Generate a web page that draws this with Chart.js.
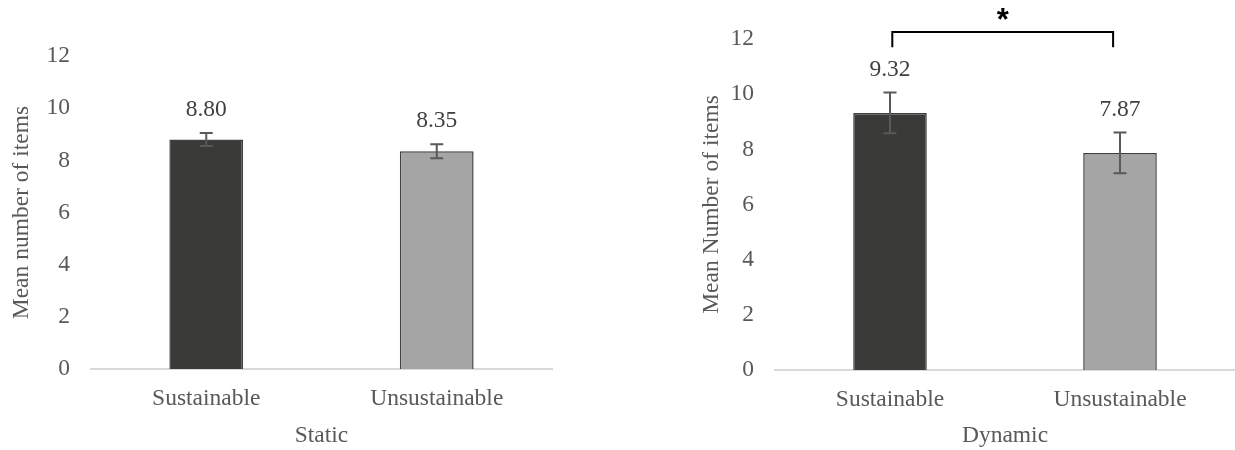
<!DOCTYPE html>
<html>
<head>
<meta charset="utf-8">
<script src="https://cdn.jsdelivr.net/npm/chart.js@4/dist/chart.umd.min.js"></script>
<style>
    body { margin: 0; background: #fff; }
    .panel { position: absolute; top: 0; height: 450px; }
</style>
</head>
<body>
<div class="panel" style="left:0;width:600px"><canvas id="staticChart" width="600" height="450"></canvas></div>
<div class="panel" style="left:680px;width:555px"><canvas id="dynamicChart" width="555" height="450"></canvas></div>
<script>
const categories = ['Sustainable', 'Unsustainable'];
const staticMeans = [8.80, 8.35];
const staticErrors = [0.25, 0.27];
const dynamicMeans = [9.32, 7.87];
const dynamicErrors = [0.74, 0.74];
const yMin = 0;
const yMax = 12;
const yStep = 2;
// significance bracket over the dynamic bars (category positions, y values)
const bracketX = [0.01, 0.97];
const bracketY = [11.7, 12.25];
const bracketLabel = '*';
const bracketLabelY = 12.8;

const barColors = ['#3a3a38', '#a5a5a5'];
const textColor = '#595959';
const serif = '"Liberation Serif", "Times New Roman", serif';
const fontSize = 23.5;

// error bars, value labels and the optional bracket
const annotations = {
    id: 'annotations',
    afterDatasetsDraw(chart, args, opts) {
        const ctx = chart.ctx;
        const meta = chart.getDatasetMeta(0);
        const y = chart.scales.y;
        const x = chart.scales.x;
        const values = chart.data.datasets[0].data;
        ctx.save();
        meta.data.forEach((bar, i) => {
            const top = y.getPixelForValue(values[i] + opts.errors[i]);
            const bottom = y.getPixelForValue(values[i] - opts.errors[i]);
            ctx.strokeStyle = '#595959';
            ctx.lineWidth = 2;
            ctx.beginPath();
            ctx.moveTo(bar.x, top);
            ctx.lineTo(bar.x, bottom);
            ctx.moveTo(bar.x - 6.5, top);
            ctx.lineTo(bar.x + 6.5, top);
            ctx.moveTo(bar.x - 6.5, bottom);
            ctx.lineTo(bar.x + 6.5, bottom);
            ctx.stroke();

            ctx.fillStyle = '#404040';
            ctx.font = fontSize + 'px ' + serif;
            ctx.textAlign = 'center';
            ctx.textBaseline = 'middle';
            ctx.fillText(values[i].toFixed(2), bar.x, top - 23);
        });
        if (opts.bracket) {
            const x0 = x.getPixelForValue(bracketX[0]);
            const x1 = x.getPixelForValue(bracketX[1]);
            const yLow = y.getPixelForValue(bracketY[0]);
            const yHigh = y.getPixelForValue(bracketY[1]);
            ctx.strokeStyle = '#000';
            ctx.lineWidth = 2;
            ctx.beginPath();
            ctx.moveTo(x0, yLow);
            ctx.lineTo(x0, yHigh);
            ctx.lineTo(x1, yHigh);
            ctx.lineTo(x1, yLow);
            ctx.stroke();
            ctx.fillStyle = '#000';
            ctx.font = 'bold 31px "Liberation Sans", Arial, sans-serif';
            ctx.textAlign = 'center';
            ctx.textBaseline = 'middle';
            ctx.fillText(bracketLabel, (x0 + x1) / 2, y.getPixelForValue(bracketLabelY) + 5);
        }
        ctx.restore();
    }
};

function barChart(canvasId, values, errors, xTitle, yTitle, layout) {
    const ctx = document.getElementById(canvasId).getContext('2d');
    return new Chart(ctx, {
        type: 'bar',
        data: {
            labels: categories,
            datasets: [{
                data: values,
                backgroundColor: barColors,
                borderColor: '#404040',
                borderWidth: 1.5,
                categoryPercentage: 0.32,
                barPercentage: 1
            }]
        },
        options: {
            responsive: false,
            animation: false,
            layout: { padding: { top: layout.top, right: layout.right, bottom: 0, left: 0 } },
            plugins: {
                legend: { display: false },
                tooltip: { enabled: false },
                annotations: { errors: errors, bracket: layout.bracket }
            },
            scales: {
                x: {
                    grid: { display: false },
                    border: { color: '#d9d9d9', width: 2 },
                    ticks: { color: textColor, font: { family: serif, size: fontSize }, padding: 8 },
                    title: { display: true, text: xTitle, color: textColor, font: { family: serif, size: fontSize }, padding: { top: 0, bottom: 0 } },
                    afterFit: scale => { scale.height = 450 - layout.bottomAxis; }
                },
                y: {
                    min: yMin,
                    max: yMax,
                    grid: { display: false },
                    border: { display: false },
                    ticks: { stepSize: yStep, color: textColor, font: { family: serif, size: fontSize }, padding: 13 },
                    title: { display: true, text: yTitle, color: textColor, font: { family: serif, size: fontSize }, padding: { top: layout.titlePad, bottom: 0 } },
                    afterFit: scale => { scale.width = layout.left; }
                }
            }
        },
        plugins: [annotations]
    });
}

barChart('staticChart', staticMeans, staticErrors, 'Static', 'Mean number of items',
    { top: 56, right: 48, left: 91, bottomAxis: 369, titlePad: 8, bracket: false });
barChart('dynamicChart', dynamicMeans, dynamicErrors, 'Dynamic', 'Mean Number of items',
    { top: 39, right: 0, left: 95, bottomAxis: 370, titlePad: 18, bracket: true });
</script>
</body>
</html>
